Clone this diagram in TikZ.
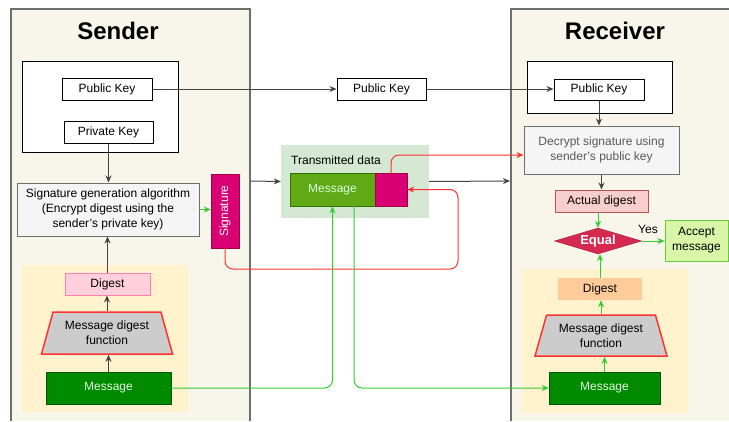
\documentclass[tikz,border=0pt]{standalone}
\usepackage{fontspec}
\setmainfont{Liberation Sans}
\usetikzlibrary{arrows.meta,shapes.geometric}

\definecolor{panelfill}{HTML}{F8F5EA}
\definecolor{panelline}{HTML}{6E6E6E}
\definecolor{areafill}{HTML}{FFF2CC}
\definecolor{boxgray}{HTML}{F5F5F5}
\definecolor{sigmag}{HTML}{D80073}
\definecolor{sigmagdark}{HTML}{A50040}
\definecolor{msgdark}{HTML}{008A00}
\definecolor{msgdarkline}{HTML}{005700}
\definecolor{msgolive}{HTML}{60A917}
\definecolor{msgoliveline}{HTML}{2D7600}
\definecolor{tgreen}{HTML}{D5E8D4}
\definecolor{digpink}{HTML}{FFD0DC}
\definecolor{digpinkline}{HTML}{FF80B0}
\definecolor{digorange}{HTML}{FFCC99}
\definecolor{actfill}{HTML}{F8CECC}
\definecolor{actline}{HTML}{B85450}
\definecolor{eqfill}{HTML}{D6294F}
\definecolor{eqline}{HTML}{A0183A}
\definecolor{accfill}{HTML}{D9F5A8}
\definecolor{accline}{HTML}{66CC33}
\definecolor{trapfill}{HTML}{CCCCCC}
\definecolor{lred}{HTML}{FF3333}
\definecolor{lgreen}{HTML}{33CC33}
\definecolor{arrowgray}{HTML}{444444}

\tikzset{
  keybox/.style={draw=black, line width=1pt, fill=white, inner sep=0pt, align=center},
  procbox/.style={draw=panelline, line width=1pt, fill=boxgray, inner sep=0pt, align=center},
  trapbox/.style={shape=trapezium, trapezium left angle=64, trapezium right angle=64,
    trapezium stretches body, draw=lred, line width=1.5pt, fill=trapfill,
    inner sep=0pt, align=center},
  msgbox/.style={draw=msgdarkline, fill=msgdark, text=white!88!green, inner sep=0pt},
  arr/.style={draw=arrowgray, line width=1pt, -{Stealth[length=7pt,width=6pt]}},
  garr/.style={arr, draw=lgreen, rounded corners=8pt},
  rarr/.style={arr, draw=lred, rounded corners=8pt},
  title/.style={font=\fontsize{24}{28}\selectfont\bfseries}
}

\begin{document}
\begin{tikzpicture}[x=1pt, y=-1pt, font=\fontsize{12}{15}\selectfont]
\useasboundingbox (0,0) rectangle (729,421);

% sender and receiver panels
\fill[panelfill] (11,9) rectangle (250,421);
\draw[panelline, line width=1.5pt] (11,421) -- (11,9) -- (250,9) -- (250,421);
\fill[panelfill] (511,9) rectangle (729,421);
\draw[panelline, line width=1.5pt] (511,421) -- (511,9) -- (729,9);

% hashing areas
\node[fill=areafill, minimum width=166pt, minimum height=147pt, inner sep=0pt] (sarea) at (105,338.5) {};
\node[fill=areafill, minimum width=166pt, minimum height=144pt, inner sep=0pt] (rarea) at (605,341) {};

% titles
\node[title] (stitle) at (118,31) {Sender};
\node[title] (rtitle) at (615,31) {Receiver};

% sender side
\node[keybox, minimum width=156pt, minimum height=91pt] (skeys) at (100,106.5) {};
\node[keybox, minimum width=90pt, minimum height=22pt] (spub) at (107,89) {Public Key};
\node[keybox, minimum width=89pt, minimum height=22pt] (spriv) at (108.5,132) {Private Key};
\node[procbox, minimum width=182pt, minimum height=53pt] (siggen) at (108,209.5)
  {Signature generation algorithm\\(Encrypt digest using the\\sender's private key)};
\node[draw=sigmagdark, fill=sigmag, minimum width=28pt, minimum height=74pt, inner sep=0pt] (sig) at (225,211) {};
\node[text=white, rotate=90] (siglabel) at (sig.center) {Signature};
\node[draw=digpinkline, line width=1pt, fill=digpink, minimum width=85pt, minimum height=22pt, inner sep=0pt] (sdigest) at (107.5,284) {Digest};
\node[trapbox, minimum width=131pt, minimum height=42pt] (strap) at (107,333) {Message digest\\function};
\node[msgbox, minimum width=125pt, minimum height=32pt] (smsg) at (108.5,388) {Message};

% channel
\node[keybox, minimum width=89pt, minimum height=22pt] (mpub) at (381.5,89) {Public Key};
\node[fill=tgreen, minimum width=148pt, minimum height=73pt, inner sep=0pt] (tgroup) at (355,181.5) {};
\node[anchor=west, inner sep=0pt] (tlabel) at (291,160) {Transmitted data};
\node[draw=msgoliveline, fill=msgolive, text=white!85!green, minimum width=85pt, minimum height=33pt, inner sep=0pt] (tmsg) at (332.5,189.5) {Message};
\node[draw=sigmagdark, fill=sigmag, minimum width=32pt, minimum height=33pt, inner sep=0pt] (tsig) at (391,189.5) {};

% receiver side
\node[keybox, minimum width=145pt, minimum height=52pt] (rkeys) at (599.5,87) {};
\node[keybox, minimum width=90pt, minimum height=21pt] (rpub) at (599,89.5) {Public Key};
\node[procbox, text=black!65, minimum width=155pt, minimum height=48pt] (decrypt) at (601.5,150)
  {Decrypt signature using\\sender's public key};
\node[draw=actline, line width=1pt, fill=actfill, minimum width=93pt, minimum height=22pt, inner sep=0pt] (actual) at (601.5,201) {Actual digest};
\node[shape=diamond, draw=eqline, fill=eqfill, text=white, font=\fontsize{13}{15}\selectfont\bfseries,
  minimum width=87pt, minimum height=26pt, aspect=3.4, inner sep=0pt] (equal) at (598,241) {Equal};
\node[draw=accline, line width=1pt, fill=accfill, minimum width=63pt, minimum height=41pt, inner sep=0pt, align=center] (accept) at (696.5,240.5) {Accept\\message};
\node[fill=digorange, minimum width=84pt, minimum height=22pt, inner sep=0pt] (rdigest) at (600,289) {Digest};
\node[trapbox, minimum width=132pt, minimum height=41pt] (rtrap) at (601,335.5) {Message digest\\function};
\node[msgbox, minimum width=111pt, minimum height=32pt] (rmsg) at (604.5,388) {Message};

% free ends and bends
\coordinate (spanelR) at (251,181);
\coordinate (rpanelL) at (510,181);
\coordinate (sigloop) at (458,269);
\coordinate (tmsgout) at (354,206);

% public key distribution
\draw[arr] (spub.east) -- (mpub.west);
\draw[arr] (mpub.east) -- (mpub.east -| rpub.west);

% sender flow
\draw[arr] (spriv.south) -- (spriv.south |- siggen.north);
\draw[arr] (smsg.north) -- (smsg.north |- strap.south);
\draw[arr] (strap.north) -- (strap.north |- sdigest.south);
\draw[arr] (sdigest.north) -- (sdigest.north |- siggen.south);
\draw[garr] (siggen.east) -- (siggen.east -| sig.west);

% transmission
\draw[arr] (spanelR) -- (tgroup.west);
\draw[arr] (tgroup.east) -- (rpanelL);
\draw[rarr] (sig.south) |- (sigloop) |- (tsig.east);
\draw[rarr] (tsig.north) |- ([yshift=-5pt]decrypt.west);
\draw[garr] (smsg.east) -| (tmsg.south);
\draw[garr] (tmsgout) |- (rmsg.west);

% receiver flow
\draw[arr] (rpub.south) -- (rpub.south |- decrypt.north);
\draw[arr] (decrypt.south) -- (decrypt.south |- actual.north);
\draw[garr] (actual.south -| equal.north) -- (equal.north);
\draw[garr] (equal.east) -- (equal.east -| accept.west);
\node[anchor=south, inner sep=1pt] (yes) at (648,235) {Yes};
\draw[garr] (rmsg.north) -- (rmsg.north |- rtrap.south);
\draw[garr] (rtrap.north) -- (rtrap.north |- rdigest.south);
\draw[garr] (rdigest.north) -- (rdigest.north |- equal.south);
\end{tikzpicture}
\end{document}
